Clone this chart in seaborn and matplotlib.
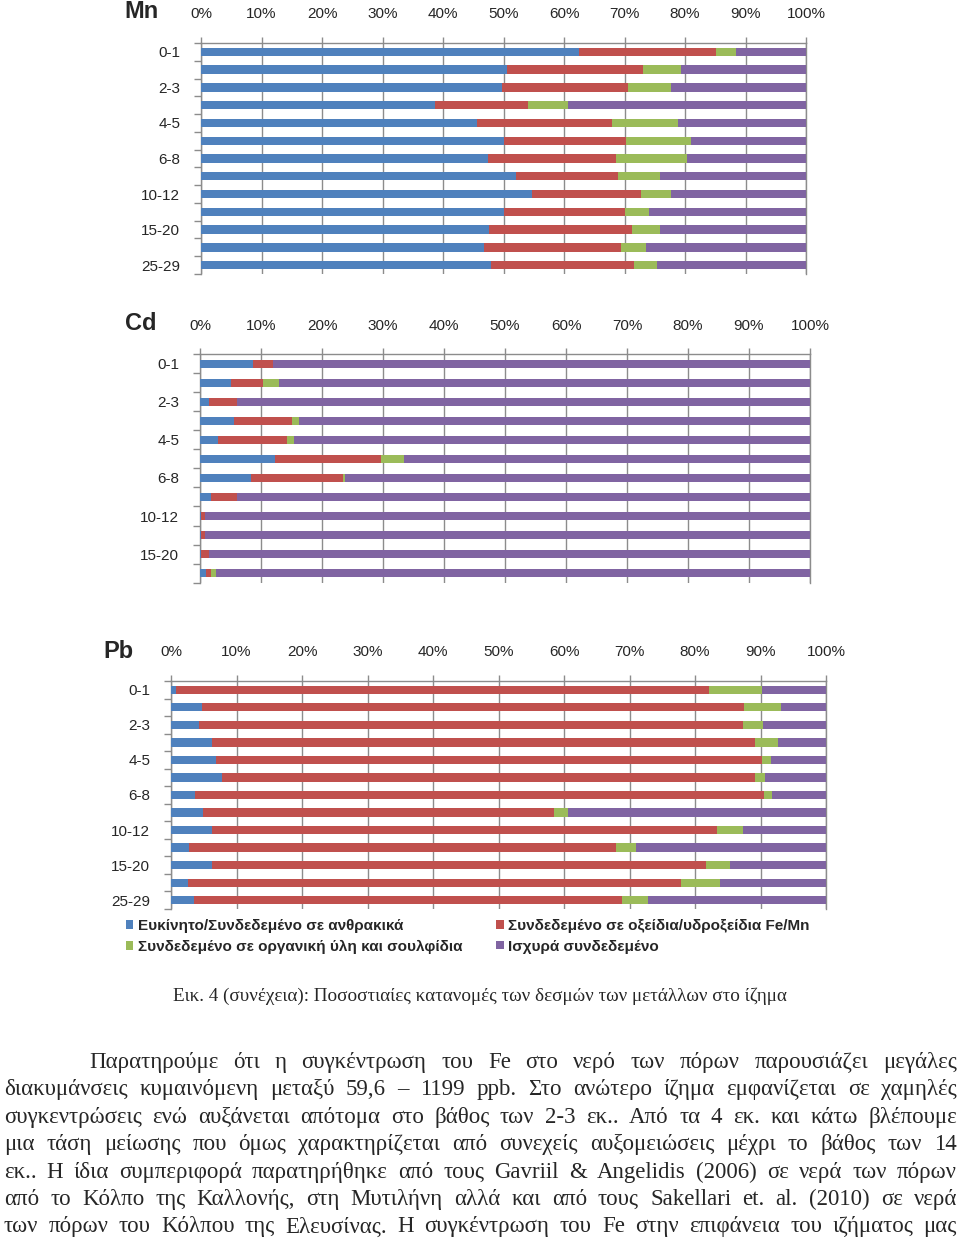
import matplotlib
matplotlib.use("Agg")
import matplotlib.pyplot as plt
from matplotlib.patches import Patch
import numpy as np
import pandas as pd
import seaborn as sns

W, H = 960, 1242

depths = ["0-1", "1-2", "2-3", "3-4", "4-5", "5-6", "6-8", "8-10",
          "10-12", "12-15", "15-20", "20-25", "25-29"]

fractions = ["Ευκίνητο/Συνδεδεμένο σε ανθρακικά",
             "Συνδεδεμένο σε οξείδια/υδροξείδια Fe/Mn",
             "Συνδεδεμένο σε οργανική ύλη και σουλφίδια",
             "Ισχυρά συνδεδεμένο"]
colors = ["#4F81BD", "#C0504D", "#9BBB59", "#8064A2"]

# percentages per depth (top to bottom)
mn_carb = [62.4, 50.5, 49.8, 38.6, 45.6, 50.0, 47.5, 52.0, 54.7, 50.0, 47.6, 46.7, 47.9]
mn_oxid = [22.8, 22.6, 20.7, 15.4, 22.3, 20.3, 21.1, 16.9, 18.0, 20.1, 23.6, 22.8, 23.6]
mn_org = [3.2, 6.3, 7.2, 6.7, 10.9, 10.7, 11.7, 6.9, 5.0, 3.9, 4.7, 4.0, 3.8]
mn_res = [11.6, 20.6, 22.3, 39.3, 21.2, 19.0, 19.7, 24.2, 22.3, 26.0, 24.1, 26.5, 24.7]

cd_carb = [8.7, 5.0, 1.5, 5.6, 2.9, 12.3, 8.3, 1.8, 0.1, 0.1, 0.1, 1.0]
cd_oxid = [3.3, 5.4, 4.6, 9.4, 11.3, 17.4, 15.1, 4.3, 0.8, 0.7, 1.3, 0.8]
cd_org = [0.0, 2.6, 0.0, 1.2, 1.2, 3.8, 0.4, 0.0, 0.0, 0.0, 0.0, 0.8]
cd_res = [88.0, 87.0, 93.9, 83.8, 84.6, 66.5, 76.2, 93.9, 99.1, 99.2, 98.6, 97.4]

pb_carb = [0.7, 4.8, 4.2, 6.3, 6.9, 7.8, 3.6, 4.9, 6.3, 2.8, 6.2, 2.6, 3.5]
pb_oxid = [81.5, 82.7, 83.1, 82.9, 83.4, 81.3, 86.9, 53.6, 77.1, 65.2, 75.5, 75.2, 65.3]
pb_org = [8.1, 5.6, 3.1, 3.4, 1.3, 1.6, 1.2, 2.1, 3.9, 3.0, 3.7, 6.0, 4.1]
pb_res = [9.7, 6.9, 9.6, 7.4, 8.4, 9.3, 8.3, 39.4, 12.7, 29.0, 14.6, 16.2, 27.1]

caption = "Εικ. 4 (συνέχεια): Ποσοστιαίες κατανομές των δεσμών των μετάλλων στο ίζημα"
paragraph = [
    "Παρατηρούμε ότι η συγκέντρωση του Fe στο νερό των πόρων παρουσιάζει μεγάλες",
    "διακυμάνσεις κυμαινόμενη μεταξύ 59,6 – 1199 ppb. Στο ανώτερο ίζημα εμφανίζεται σε χαμηλές",
    "συγκεντρώσεις ενώ αυξάνεται απότομα στο βάθος των 2-3 εκ.. Από τα 4 εκ. και κάτω βλέπουμε",
    "μια τάση μείωσης που όμως χαρακτηρίζεται από συνεχείς αυξομειώσεις μέχρι το βάθος των 14",
    "εκ.. Η ίδια συμπεριφορά παρατηρήθηκε από τους Gavriil & Angelidis (2006) σε νερά των πόρων",
    "από το Κόλπο της Καλλονής, στη Μυτιλήνη αλλά και από τους Sakellari et. al. (2010) σε νερά",
    "των πόρων του Κόλπου της Ελευσίνας. Η συγκέντρωση του Fe στην επιφάνεια του ιζήματος μας",
]

sns.set_style("white")
plt.rcParams['font.family'] = ['Liberation Sans', 'DejaVu Sans']
grid_col = "#8C8C8C"
serif = ['Liberation Serif', 'DejaVu Serif']

fig = plt.figure(figsize=(W / 100, H / 100), dpi=100)


def px_axes(left, right, top, bottom):
    return fig.add_axes([left / W, 1 - bottom / H, (right - left) / W, (bottom - top) / H])


def draw_panel(ax, carb, oxid, org, res):
    n = len(carb)
    df = pd.DataFrame({"depth": depths[:n], fractions[0]: carb, fractions[1]: oxid,
                       fractions[2]: org, fractions[3]: res})
    cum = df[fractions].cumsum(axis=1)
    # draw from the longest cumulative bar to the shortest so they stack
    for f, c in reversed(list(zip(fractions, colors))):
        sns.barplot(x=cum[f], y=df["depth"], order=depths[:n], orient="y", color=c,
                    saturation=1, width=0.47, linewidth=0, errorbar=None, ax=ax, zorder=3)
    ax.set_xlim(0, 100)
    ax.set_ylim(n - 0.5, -0.5)
    ax.set_xlabel("")
    ax.set_ylabel("")
    ax.set_xticks(np.arange(0, 101, 10))
    ax.set_xticklabels([f"{v}%" for v in range(0, 101, 10)])
    ax.xaxis.tick_top()
    ax.tick_params(axis="x", length=4, width=1, color=grid_col, pad=11.5, labelsize=11)
    ax.set_yticks(range(0, n, 2))
    ax.set_yticklabels(depths[0:n:2])
    ax.set_yticks(np.arange(-0.5, n, 1), minor=True)
    ax.tick_params(axis="y", which="major", length=0, pad=15, labelsize=11)
    ax.tick_params(axis="y", which="minor", length=5, width=1, color=grid_col, left=True)
    ax.grid(axis="x", color=grid_col, linewidth=1)
    ax.set_axisbelow(True)
    for s in ["top", "left", "right"]:
        ax.spines[s].set_visible(True)
        ax.spines[s].set_color(grid_col)
        ax.spines[s].set_linewidth(1)
    ax.spines["bottom"].set_visible(False)


ax_mn = px_axes(201, 806, 43, 274)
draw_panel(ax_mn, mn_carb, mn_oxid, mn_org, mn_res)
ax_cd = px_axes(200, 810, 354.5, 582.5)
draw_panel(ax_cd, cd_carb, cd_oxid, cd_org, cd_res)
ax_pb = px_axes(171, 826, 681, 909)
draw_panel(ax_pb, pb_carb, pb_oxid, pb_org, pb_res)

for name, x, y in [("Mn", 124, 12), ("Cd", 125, 323), ("Pb", 103, 651)]:
    fig.text(x / W, 1 - y / H, name, fontsize=17, fontweight="bold", ha="left", va="center")

# legend: column order blue, green | red, purple
order = [0, 2, 1, 3]
handles = [Patch(facecolor=colors[i], edgecolor="none") for i in order]
fig.legend(handles, [fractions[i] for i in order], ncol=2, frameon=False,
           loc="upper left", bbox_to_anchor=(118 / W, 1 - 911 / H),
           prop={"weight": "bold", "size": 11}, handlelength=0.5, handleheight=0.5,
           handletextpad=0.3, labelspacing=0.45, columnspacing=2.2, borderpad=0)

fig.text(480 / W, 1 - 1001 / H, caption, fontsize=13.8, family=serif, ha="center", va="baseline")

renderer = fig.canvas.get_renderer()


def justified(line, y, x0, x1, size):
    words = line.split()
    objs = [fig.text(0, 1 - y / H, w, fontsize=size, family=serif, ha="left", va="baseline")
            for w in words]
    widths = [o.get_window_extent(renderer).width for o in objs]
    gap = (x1 - x0 - sum(widths)) / (len(words) - 1)
    x = x0
    for o, w in zip(objs, widths):
        o.set_x(x / W)
        x += w + gap


for i, line in enumerate(paragraph):
    justified(line, 1068 + i * 27.4, 89 if i == 0 else 4, 957, 16.5)

fig.savefig("out.png", dpi=100)
